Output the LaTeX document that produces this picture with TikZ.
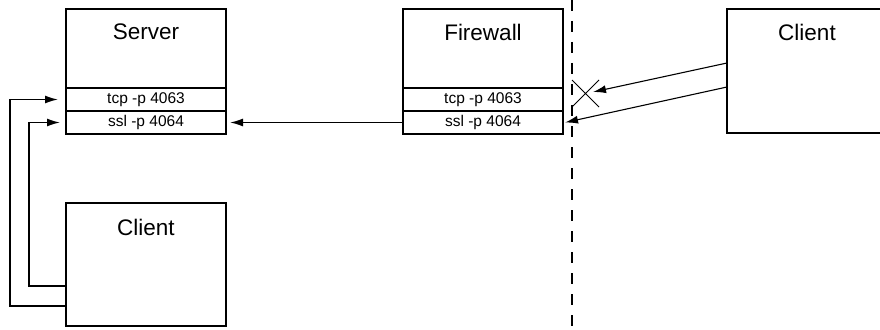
\documentclass[tikz,border=0pt]{standalone}
\usepackage{fontspec}
\setmainfont{Liberation Sans}
\usetikzlibrary{positioning,arrows.meta}
\tikzset{
  box/.style={draw,line width=2pt,minimum width=160pt,inner sep=0pt,outer sep=0pt},
  titlebox/.style={box,minimum height=79pt},
  portrow/.style={box,minimum height=23pt,font=\fontsize{15.5}{15}\selectfont},
  titletext/.style={font=\fontsize{22.5}{22}\selectfont,inner sep=0pt},
  conn/.style={line width=1.5pt,-{Latex[length=13pt,width=8pt]}},
  thinconn/.style={line width=1.1pt,-{Latex[length=13pt,width=8pt]}}
}
\begin{document}
\begin{tikzpicture}[x=1pt,y=-1pt]
  \useasboundingbox (0,0) rectangle (880,329);
  \clip (0,0) rectangle (880,329);
  \def\dashx{572}
  % Server: title area and two port rows.
  \node[titlebox] (srv) at (146,48.5) {};
  \node[titletext] (srvname) at (146,32) {Server};
  \node[portrow,below=0pt of srv] (srvtcp) {tcp -p 4063};
  \node[portrow,below=0pt of srvtcp] (srvssl) {ssl -p 4064};
  % Firewall: same layout as the server.
  \node[titlebox] (fw) at (483,48.5) {};
  \node[titletext] (fwname) at (483,32) {Firewall};
  \node[portrow,below=0pt of fw] (fwtcp) {tcp -p 4063};
  \node[portrow,below=0pt of fwtcp] (fwssl) {ssl -p 4064};
  % Clients, inside and outside.
  \node[box,minimum height=123pt] (cli) at (146,264.5) {};
  \node[titletext] (cliname) at (146,227) {Client};
  \node[box,minimum height=124pt] (ext) at (807,71) {};
  \node[titletext] (extname) at (807,32) {Client};
  % Firewall boundary.
  \draw[line width=2.2pt,dash pattern=on 11pt off 10pt] (\dashx,0) -- (\dashx,329);
  % Inside connections.
  \draw[conn] (fwssl.west) -- ([xshift=4pt]srvssl.east);
  \draw[conn] ([yshift=20pt]cli.south west) -- ++(-56,0) |- ([xshift=-8pt]srvtcp.west);
  \draw[conn] ([yshift=40pt]cli.south west) -- ++(-37,0) |- ([xshift=-6pt]srvssl.west);
  % Outside connections: tcp is blocked, ssl passes.
  \coordinate (blocked) at (593,92);
  \draw[thinconn] ([yshift=8pt]ext.west) -- (blocked);
  \draw[thinconn] ([yshift=-16pt]ext.west) -- ([xshift=2pt]fwssl.east);
  \draw[line width=0.9pt] (572,80) -- (599,107) (572,107) -- (599,80);
\end{tikzpicture}
\end{document}
